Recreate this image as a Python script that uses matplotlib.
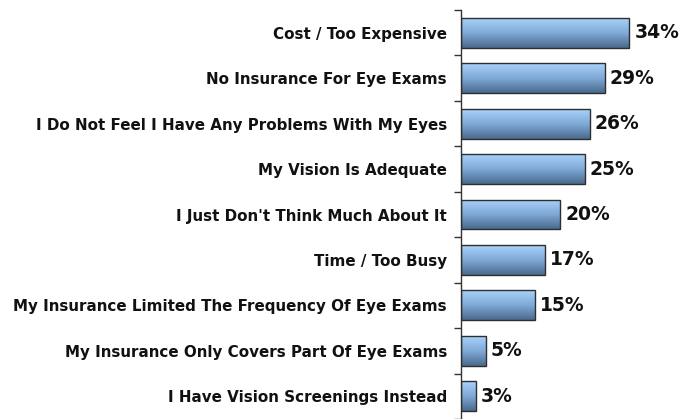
import matplotlib
matplotlib.use("Agg")
import matplotlib.pyplot as plt
import numpy as np
from matplotlib.colors import LinearSegmentedColormap

categories = [
    "Cost / Too Expensive",
    "No Insurance For Eye Exams",
    "I Do Not Feel I Have Any Problems With My Eyes",
    "My Vision Is Adequate",
    "I Just Don't Think Much About It",
    "Time / Too Busy",
    "My Insurance Limited The Frequency Of Eye Exams",
    "My Insurance Only Covers Part Of Eye Exams",
    "I Have Vision Screenings Instead",
]
values = [34, 29, 26, 25, 20, 17, 15, 5, 3]
value_labels = ["34%", "29%", "26%", "25%", "20%", "17%", "15%", "5%", "3%"]

fig = plt.figure(figsize=(6.82, 4.19), dpi=100)
ax = fig.add_axes([461/682, 0.0, 1 - 461/682, 409/419])

y = np.arange(len(categories))
bars = ax.barh(y, values, height=0.66, color="none", edgecolor="#2e2e2e", linewidth=1.0, zorder=3)

cmap = LinearSegmentedColormap.from_list("g", ["#a9d2fb", "#7fa9d6", "#4a6a8e"])
grad = np.linspace(0, 1, 64).reshape(-1, 1)
for p in bars.patches:
    x0, y0 = p.get_x(), p.get_y()
    w, h = p.get_width(), p.get_height()
    im = ax.imshow(grad, cmap=cmap, aspect="auto", extent=[x0, x0 + w, y0 + h, y0],
                   origin="upper", zorder=2, interpolation="bilinear")
    im.set_clip_path(p)

for p, lab in zip(bars.patches, value_labels):
    ax.text(p.get_width() + 1.0, p.get_y() + p.get_height() / 2, lab,
            va="center", ha="left", fontsize=13.5, fontweight="bold",
            family="DejaVu Sans", color="#111111")

ax.set_xlim(0, 44.6)
ax.set_ylim(len(categories) - 0.5, -0.5)
ax.set_yticks(y)
ax.set_yticklabels(categories, fontsize=10.9, fontweight="bold", family="DejaVu Sans", color="#111111")
ax.set_yticks(np.arange(len(categories) + 1) - 0.5, minor=True)
ax.tick_params(axis="y", which="major", length=0, pad=10)
ax.tick_params(axis="y", which="minor", length=5, width=1, color="#333333", direction="out")
ax.set_xticks([])
for s in ["top", "right", "bottom"]:
    ax.spines[s].set_visible(False)
ax.spines["left"].set_color("#333333")
ax.spines["left"].set_linewidth(1.0)
ax.set_facecolor("none")

fig.savefig("out.png", dpi=100)
